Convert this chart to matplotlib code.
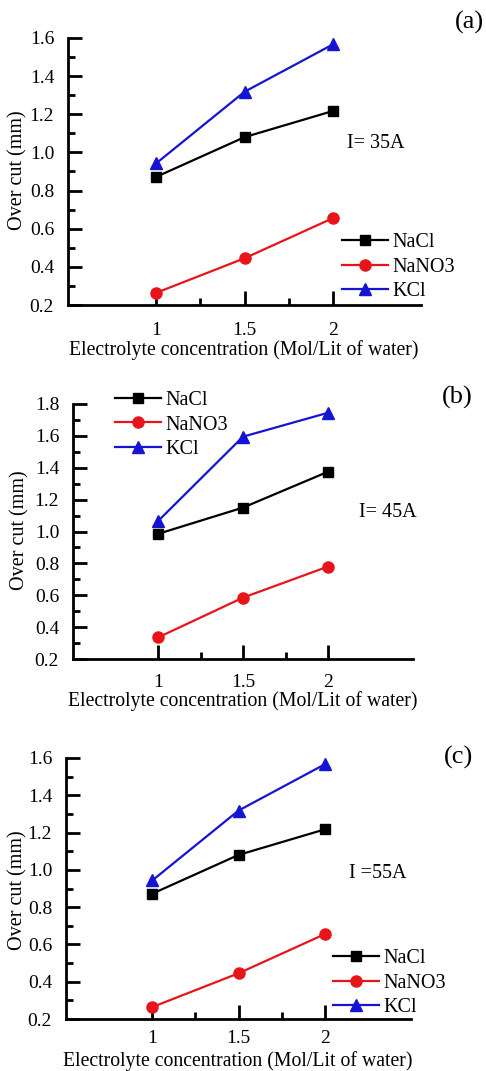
import matplotlib
matplotlib.use("Agg")
import matplotlib.pyplot as plt
from matplotlib.ticker import FixedLocator, MultipleLocator

plt.rcParams['font.family'] = ['Liberation Serif', 'DejaVu Serif']

W, H = 486, 1071

concentration = [1, 1.5, 2]
xtick_labels = ['1', '1.5', '2']
series_names = ['NaCl', 'NaNO3', 'KCl']

# (a) I = 35A
nacl_a = [0.872, 1.080, 1.217]
nano3_a = [0.264, 0.445, 0.655]
kcl_a = [0.943, 1.318, 1.566]
# (b) I = 45A
nacl_b = [0.985, 1.150, 1.375]
nano3_b = [0.335, 0.585, 0.780]
kcl_b = [1.065, 1.595, 1.745]
# (c) I = 55A
nacl_c = [0.872, 1.080, 1.217]
nano3_c = [0.264, 0.445, 0.655]
kcl_c = [0.943, 1.318, 1.566]

colors = ['#000000', '#e8141a', '#1414d2']
markers = ['s', 'o', '^']
msizes = [7.0, 8.0, 8.0]

panels = [
    dict(data=[nacl_a, nano3_a, kcl_a], rect=(68, 38, 421, 305), ylim=(0.2, 1.6),
         yticks=[0.2, 0.4, 0.6, 0.8, 1.0, 1.2, 1.4, 1.6], tag='(a)', tagpos=(469, 22),
         cur='I= 35A', curpos=(347, 143), leg=(342, 267), xpad=12,
         xlab=(0.499, -0.169), ylab=(-0.142, 0.506)),
    dict(data=[nacl_b, nano3_b, kcl_b], rect=(73, 404, 413, 659), ylim=(0.2, 1.8),
         yticks=[0.2, 0.4, 0.6, 0.8, 1.0, 1.2, 1.4, 1.6, 1.8], tag='(b)', tagpos=(457, 397),
         cur='I= 45A', curpos=(359, 512), leg=(115, 425), xpad=11,
         xlab=(0.50, -0.164), ylab=(-0.156, 0.506)),
    dict(data=[nacl_c, nano3_c, kcl_c], rect=(66, 758, 411, 1019), ylim=(0.2, 1.6),
         yticks=[0.2, 0.4, 0.6, 0.8, 1.0, 1.2, 1.4, 1.6], tag='(c)', tagpos=(458, 757),
         cur='I =55A', curpos=(349, 873), leg=(333, 983), xpad=8,
         xlab=(0.497, -0.162), ylab=(-0.139, 0.494)),
]

fig = plt.figure(figsize=(W / 100, H / 100), dpi=100)

for p in panels:
    l, t, r, b = p['rect']
    ax = fig.add_axes([l / W, 1 - b / H, (r - l) / W, (b - t) / H])
    handles = []
    for vals, name, c, m, ms in zip(p['data'], series_names, colors, markers, msizes):
        h, = ax.plot(concentration, vals, color=c, marker=m, markersize=ms,
                     linewidth=1.6, label=name, clip_on=False, zorder=3)
        handles.append(h)
    ax.set_xlim(0.5, 2.5)
    ax.set_ylim(*p['ylim'])
    ax.set_xticks(concentration)
    ax.set_xticklabels(xtick_labels)
    ax.xaxis.set_minor_locator(FixedLocator([1.25, 1.75]))
    ax.set_yticks(p['yticks'])
    ax.set_yticklabels([f'{v:.1f}' for v in p['yticks']])
    ax.yaxis.set_minor_locator(MultipleLocator(0.1))
    for s in ['top', 'right']:
        ax.spines[s].set_visible(False)
    for s in ['left', 'bottom']:
        ax.spines[s].set_linewidth(2.0)
    ax.tick_params(which='major', direction='in', length=10, width=2.0,
                   labelsize=14, pad=10)
    ax.tick_params(axis='x', which='major', pad=p['xpad'])
    ax.tick_params(which='minor', direction='in', length=5, width=2.0)
    ax.set_xlabel('Electrolyte concentration (Mol/Lit of water)', fontsize=14.2)
    ax.set_ylabel('Over cut (mm)', fontsize=14.5)
    ax.xaxis.set_label_coords(*p['xlab'])
    ax.yaxis.label.set_va('center')
    ax.xaxis.label.set_va('center')
    ax.yaxis.set_label_coords(*p['ylab'])
    fig.text(p['tagpos'][0] / W, 1 - p['tagpos'][1] / H, p['tag'], fontsize=19,
             ha='center', va='center')
    fig.text(p['curpos'][0] / W, 1 - p['curpos'][1] / H, p['cur'], fontsize=14.5,
             ha='left', va='center')
    lx, ly = p['leg']
    ax.legend(handles=handles, loc='center left', bbox_to_anchor=(lx / W, 1 - ly / H),
              bbox_transform=fig.transFigure, frameon=False, fontsize=14.5,
              handlelength=2.3, handletextpad=0.2, labelspacing=0.25,
              borderpad=0, borderaxespad=0)

fig.savefig('out.png', dpi=100)
